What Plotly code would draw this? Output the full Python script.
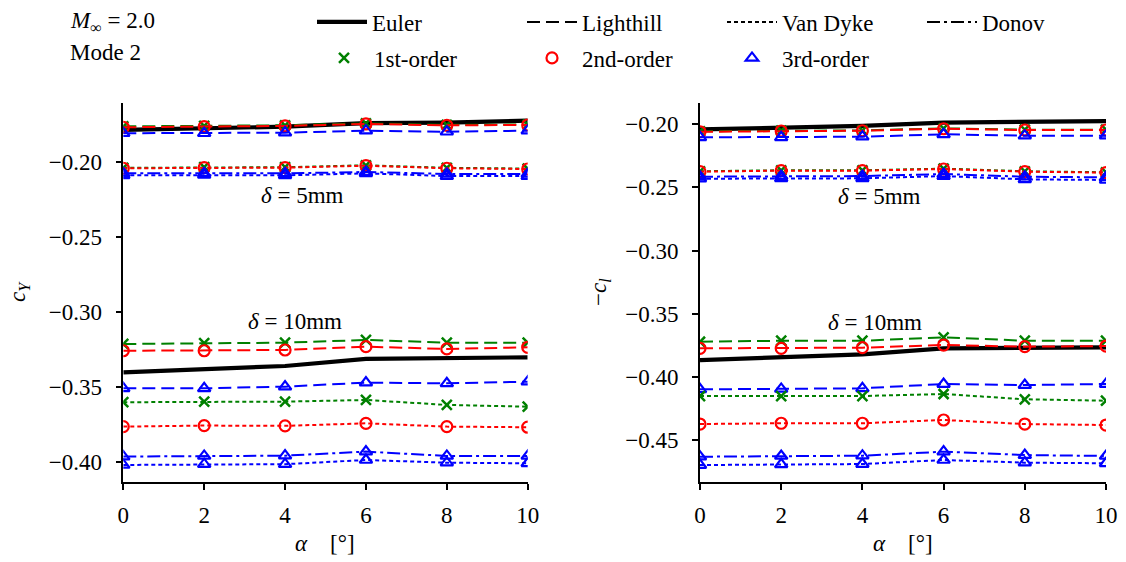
import plotly.graph_objects as go

# ---------------- data ----------------
alpha = [0, 2, 4, 6, 8, 10]

# left panel: c_Y
euler_cy_5 = [-0.1784, -0.1773, -0.1762, -0.1739, -0.1735, -0.1722]
lh1_cy_5 = [-0.1760, -0.1757, -0.1753, -0.1740, -0.1750, -0.1748]
lh2_cy_5 = [-0.1766, -0.1762, -0.1757, -0.1744, -0.1753, -0.1751]
lh3_cy_5 = [-0.1806, -0.1806, -0.1802, -0.1789, -0.1796, -0.1789]
vd1_cy_5 = [-0.2037, -0.2033, -0.2033, -0.2020, -0.2037, -0.2042]
vd2_cy_5 = [-0.2040, -0.2036, -0.2036, -0.2023, -0.2040, -0.2045]
vd3_cy_5 = [-0.2087, -0.2085, -0.2087, -0.2074, -0.2092, -0.2092]
dn3_cy_5 = [-0.2074, -0.2074, -0.2074, -0.2065, -0.2078, -0.2078]

euler_cy_10 = [-0.3403, -0.3381, -0.3361, -0.3314, -0.3310, -0.3303]
lh1_cy_10 = [-0.3214, -0.3209, -0.3205, -0.3187, -0.3205, -0.3205]
lh2_cy_10 = [-0.3259, -0.3259, -0.3254, -0.3232, -0.3247, -0.3236]
lh3_cy_10 = [-0.3510, -0.3510, -0.3499, -0.3472, -0.3477, -0.3466]
vd1_cy_10 = [-0.3603, -0.3599, -0.3599, -0.3588, -0.3621, -0.3633]
vd2_cy_10 = [-0.3766, -0.3759, -0.3761, -0.3744, -0.3766, -0.3770]
vd3_cy_10 = [-0.4022, -0.4017, -0.4017, -0.3989, -0.4007, -0.4011]
dn3_cy_10 = [-0.3966, -0.3962, -0.3960, -0.3933, -0.3962, -0.3962]

# right panel: -c_l
euler_cl_5 = [-0.2040, -0.2027, -0.2013, -0.1987, -0.1982, -0.1974]
lh1_cl_5 = [-0.2055, -0.2050, -0.2048, -0.2032, -0.2042, -0.2042]
lh2_cl_5 = [-0.2059, -0.2053, -0.2051, -0.2035, -0.2045, -0.2045]
lh3_cl_5 = [-0.2103, -0.2103, -0.2098, -0.2079, -0.2090, -0.2090]
vd1_cl_5 = [-0.2372, -0.2364, -0.2364, -0.2351, -0.2372, -0.2380]
vd2_cl_5 = [-0.2375, -0.2367, -0.2367, -0.2354, -0.2375, -0.2383]
vd3_cl_5 = [-0.2431, -0.2428, -0.2428, -0.2410, -0.2436, -0.2441]
dn3_cl_5 = [-0.2415, -0.2410, -0.2410, -0.2394, -0.2415, -0.2420]

euler_cl_10 = [-0.3868, -0.3846, -0.3823, -0.3775, -0.3775, -0.3767]
lh1_cl_10 = [-0.3723, -0.3715, -0.3715, -0.3688, -0.3715, -0.3715]
lh2_cl_10 = [-0.3775, -0.3775, -0.3770, -0.3749, -0.3762, -0.3757]
lh3_cl_10 = [-0.4100, -0.4097, -0.4092, -0.4058, -0.4066, -0.4058]
vd1_cl_10 = [-0.4153, -0.4153, -0.4153, -0.4137, -0.4179, -0.4190]
vd2_cl_10 = [-0.4375, -0.4369, -0.4369, -0.4343, -0.4375, -0.4383]
vd3_cl_10 = [-0.4700, -0.4695, -0.4692, -0.4660, -0.4681, -0.4686]
dn3_cl_10 = [-0.4634, -0.4628, -0.4626, -0.4594, -0.4621, -0.4628]

method_names = ["Euler", "Lighthill", "Van Dyke", "Donov"]
order_names = ["1st-order", "2nd-order", "3rd-order"]
left_ticks = [-0.40, -0.35, -0.30, -0.25, -0.20]
right_ticks = [-0.45, -0.40, -0.35, -0.30, -0.25, -0.20]
x_ticks = [0, 2, 4, 6, 8, 10]

# ---------------- styles ----------------
FONT = '"Liberation Serif", "Times New Roman", Times, serif'
FS = 23
COLORS = ["green", "red", "blue"]
SYMBOLS = ["x-thin", "circle-open", "triangle-up-open"]
DASH = {"Lighthill": "13px,6px", "Van Dyke": "4px,3px", "Donov": "13px,4px,3px,4px"}


def marker(i):
    if i == 0:
        return dict(symbol="x-thin", size=10, color=COLORS[0],
                    line=dict(color=COLORS[0], width=2.5))
    return dict(symbol=SYMBOLS[i], size=11, color=COLORS[i],
                line=dict(color=COLORS[i], width=2.2))


fig = go.Figure()


def add_panel(xa, ya, data):
    for ys in data["Euler"]:
        fig.add_trace(go.Scatter(x=alpha, y=ys, mode="lines", xaxis=xa, yaxis=ya,
                                 line=dict(color="black", width=4.2),
                                 showlegend=False, hoverinfo="skip"))
    for meth in ["Lighthill", "Van Dyke", "Donov"]:
        for group in data[meth]:
            for i, ys in group:
                fig.add_trace(go.Scatter(
                    x=alpha, y=ys, mode="lines+markers", xaxis=xa, yaxis=ya,
                    line=dict(color=COLORS[i], width=2, dash=DASH[meth]),
                    marker=marker(i), showlegend=False, hoverinfo="skip"))


add_panel("x", "y", {
    "Euler": [euler_cy_5, euler_cy_10],
    "Lighthill": [[(0, lh1_cy_5), (1, lh2_cy_5), (2, lh3_cy_5)],
                  [(0, lh1_cy_10), (1, lh2_cy_10), (2, lh3_cy_10)]],
    "Van Dyke": [[(0, vd1_cy_5), (1, vd2_cy_5), (2, vd3_cy_5)],
                 [(0, vd1_cy_10), (1, vd2_cy_10), (2, vd3_cy_10)]],
    "Donov": [[(2, dn3_cy_5)], [(2, dn3_cy_10)]],
})
add_panel("x2", "y2", {
    "Euler": [euler_cl_5, euler_cl_10],
    "Lighthill": [[(0, lh1_cl_5), (1, lh2_cl_5), (2, lh3_cl_5)],
                  [(0, lh1_cl_10), (1, lh2_cl_10), (2, lh3_cl_10)]],
    "Van Dyke": [[(0, vd1_cl_5), (1, vd2_cl_5), (2, vd3_cl_5)],
                 [(0, vd1_cl_10), (1, vd2_cl_10), (2, vd3_cl_10)]],
    "Donov": [[(2, dn3_cl_5)], [(2, dn3_cl_10)]],
})

H, W = 562, 1126

# legend entries: each entry in its own legend box so it can be placed freely
legend_ids = ["legend", "legend2", "legend3", "legend4", "legend5", "legend6", "legend7"]
legend_text_x = [373, 583, 783, 983, 375, 583, 783]   # left edge of entry text (px)
legend_row_y = [22, 22, 22, 22, 58, 58, 58]           # row centre (px)

fig.add_trace(go.Scatter(x=[None], y=[None], mode="lines", name=method_names[0],
                         line=dict(color="black", width=4.2), legend=legend_ids[0]))
for k, m in enumerate(method_names[1:], start=1):
    fig.add_trace(go.Scatter(x=[None], y=[None], mode="lines", name=m,
                             line=dict(color="black", width=2, dash=DASH[m]),
                             legend=legend_ids[k]))
for i, o in enumerate(order_names):
    fig.add_trace(go.Scatter(x=[None], y=[None], mode="markers", name=o,
                             marker=marker(i), legend=legend_ids[4 + i]))

ITEMW = 50
TEXT_OFFSET = 61  # distance from legend x to entry text
legend_layout = {}
for lid, tx, ry in zip(legend_ids, legend_text_x, legend_row_y):
    legend_layout[lid] = dict(orientation="h", xanchor="left", yanchor="middle",
                              x=(tx - TEXT_OFFSET) / W, y=1 - ry / H, itemwidth=ITEMW,
                              bgcolor="rgba(0,0,0,0)",
                              font=dict(family=FONT, size=FS, color="black"))

axis_common = dict(showline=True, linecolor="black", linewidth=1.6, ticks="outside",
                   ticklen=6, tickwidth=1.6, tickcolor="black", showgrid=False,
                   zeroline=False, tickfont=dict(family=FONT, size=FS, color="black"))

y0 = 1 - 481.7 / H
y1 = 1 - 103 / H
fig.update_layout(
    width=W, height=H, margin=dict(l=0, r=0, t=0, b=0, autoexpand=False),
    paper_bgcolor="white", plot_bgcolor="white",
    font=dict(family=FONT, size=FS, color="black"),
    xaxis=dict(domain=[123.3 / W, 527.7 / W], range=[0, 10], tickvals=x_ticks,
               anchor="y", ticklabelstandoff=6, **axis_common),
    yaxis=dict(domain=[y0, y1], range=[-0.4134, -0.1604], tickvals=left_ticks,
               tickformat=".2f", anchor="x", ticklabelstandoff=9, **axis_common),
    xaxis2=dict(domain=[700 / W, 1106 / W], range=[0, 10], tickvals=x_ticks,
                anchor="y2", ticklabelstandoff=6, **axis_common),
    yaxis2=dict(domain=[y0, y1], range=[-0.4832, -0.1831], tickvals=right_ticks,
                tickformat=".2f", anchor="x2", ticklabelstandoff=9, **axis_common),
    **legend_layout,
)

ann = []
ann.append(dict(text="<i>M</i><sub>∞</sub> = 2.0", x=68 / W, y=1 - 22 / H, xref="paper",
                yref="paper", xanchor="left", yanchor="middle", showarrow=False))
ann.append(dict(text="Mode 2", x=68 / W, y=1 - 52 / H, xref="paper", yref="paper",
                xanchor="left", yanchor="middle", showarrow=False))
ann.append(dict(text="<i>δ</i> = 5mm", x=4.42, y=-0.2225, xref="x", yref="y", showarrow=False))
ann.append(dict(text="<i>δ</i> = 10mm", x=4.25, y=-0.3067, xref="x", yref="y", showarrow=False))
ann.append(dict(text="<i>δ</i> = 5mm", x=4.43, y=-0.2568, xref="x2", yref="y2", showarrow=False))
ann.append(dict(text="<i>δ</i> = 10mm", x=4.3, y=-0.3567, xref="x2", yref="y2", showarrow=False))
ann.append(dict(text="<i>α</i>    [°]", x=325 / W, y=1 - 543 / H, xref="paper", yref="paper",
                xanchor="center", yanchor="middle", showarrow=False))
ann.append(dict(text="<i>α</i>    [°]", x=903 / W, y=1 - 543 / H, xref="paper", yref="paper",
                xanchor="center", yanchor="middle", showarrow=False))
ann.append(dict(text="<i>c<sub>Y</sub></i>", x=19 / W, y=1 - 292 / H, xref="paper", yref="paper",
                textangle=-90, xanchor="center", yanchor="middle", showarrow=False))
ann.append(dict(text="−<i>c<sub>l</sub></i>", x=600 / W, y=1 - 292 / H, xref="paper",
                yref="paper", textangle=-90, xanchor="center", yanchor="middle",
                showarrow=False))
fig.update_layout(annotations=ann)

fig.write_html("out.html")
